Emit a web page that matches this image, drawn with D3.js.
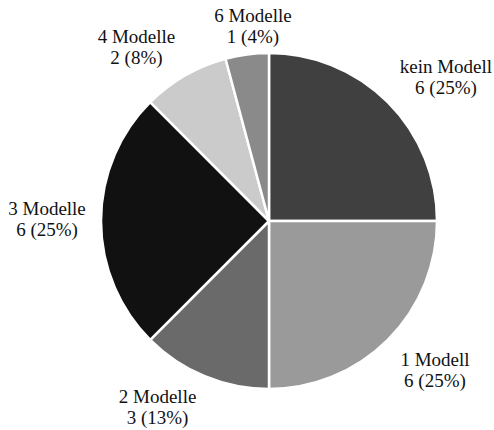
<!DOCTYPE html>
<html><head><meta charset="utf-8">
<script src="https://cdn.jsdelivr.net/npm/d3@7"></script>
<style>body{margin:0;background:#fff}</style>
</head><body>
<svg id="c" width="494" height="430"></svg>
<script>
const categories = ["kein Modell","1 Modell","2 Modelle","3 Modelle","4 Modelle","6 Modelle"];
const values = [6,6,3,6,2,1];
const percentLabels = ["25%","25%","13%","25%","8%","4%"];
const colors = ["#404040","#9a9a9a","#6a6a6a","#111111","#cbcbcb","#8a8a8a"];

const svg = d3.select("#c");
const cx = 269, cy = 221, R = 168;
const g = svg.append("g").attr("transform", `translate(${cx},${cy})`);
const pie = d3.pie().sort(null).value(d => d);
const arcs = pie(values);
const arc = d3.arc().innerRadius(0).outerRadius(R);
g.selectAll("path").data(arcs).join("path")
  .attr("d", arc).attr("fill", (d,i) => colors[i])
  .attr("stroke", "#fff").attr("stroke-width", 2.5).attr("stroke-linejoin","round");

// label placement: radius / angle tweaks per slice
const labelR = [228,223,217,222,219,196];
const angleShift = [5.9,-3.1,8.4,0.5,-7.25,2.8];
arcs.forEach((d,i) => {
  const a = (d.startAngle + d.endAngle)/2 + angleShift[i]*Math.PI/180;
  const r = labelR[i];
  const x = Math.sin(a)*r, y = -Math.cos(a)*r;
  const t = g.append("text").attr("text-anchor","middle")
    .attr("font-family","'Liberation Serif', 'Times New Roman', serif")
    .attr("font-size", 19).attr("fill","#111");
  t.append("tspan").attr("x", x).attr("y", y - 4).text(categories[i]);
  t.append("tspan").attr("x", x).attr("y", y + 17).text(`${values[i]} (${percentLabels[i]})`);
});
</script>
</body></html>
